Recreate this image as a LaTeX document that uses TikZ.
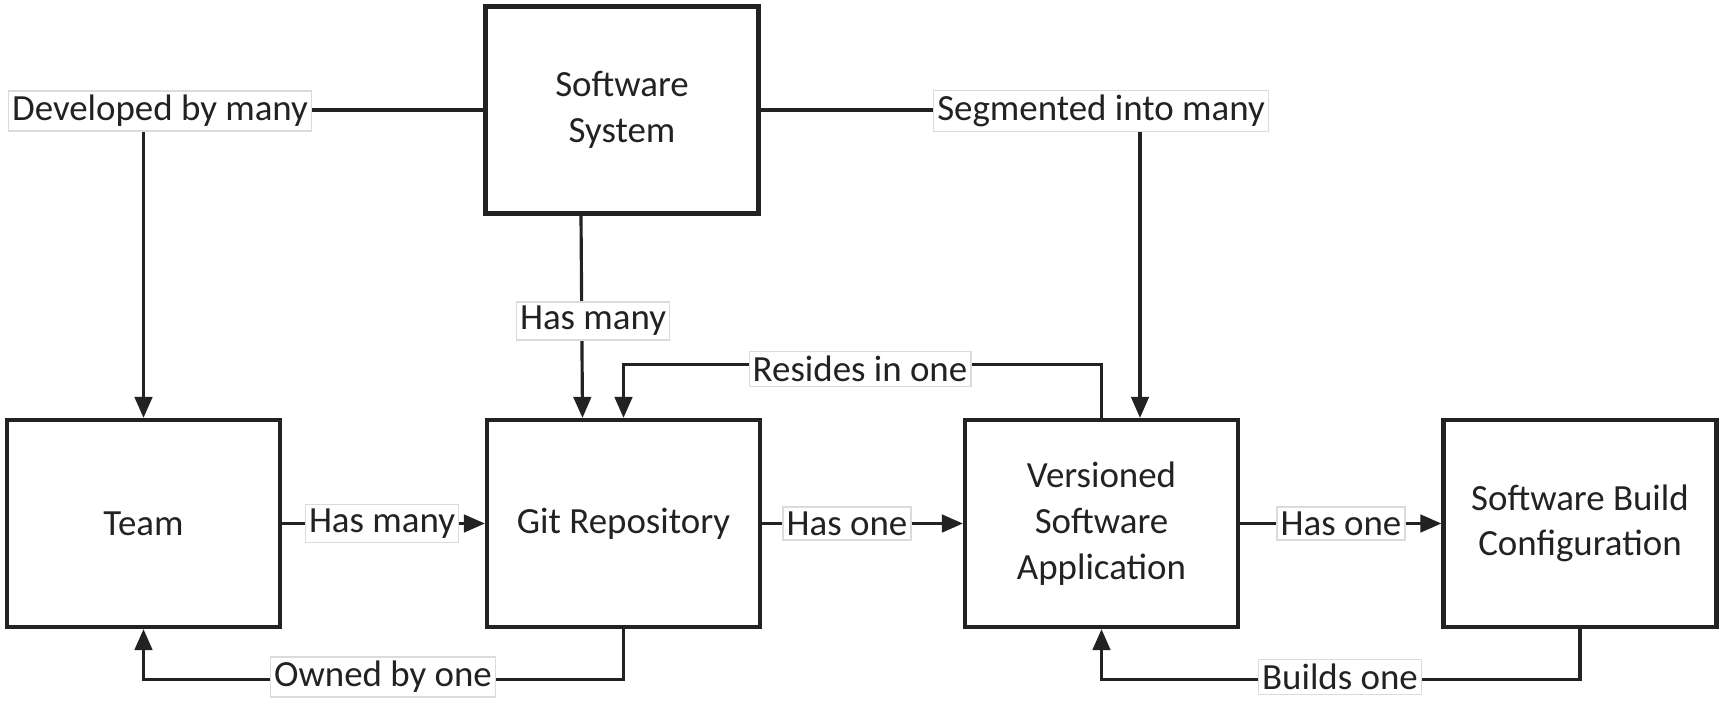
\documentclass[tikz,border=0pt]{standalone}
\usepackage{fontspec}
\setmainfont{Carlito}
\usetikzlibrary{arrows.meta,calc}
\definecolor{ink}{HTML}{222222}
\tikzset{
  box/.style={draw=ink, line width=2.4pt, minimum width=5.46cm, minimum height=4.14cm,
    inner sep=0pt, align=center, font=\fontsize{21}{26}\selectfont, text=ink},
  lbl/.style={fill=white, draw=gray!28, line width=0.8pt, inner xsep=2pt, inner ysep=2.5pt,
    font=\fontsize{21}{24}\selectfont, text=ink},
  conn/.style={draw=ink, line width=1.8pt},
  arr/.style={conn, -{Triangle[length=12pt,width=10pt]}}
}
\begin{document}
\begin{tikzpicture}[x=0.02cm,y=-0.02cm]
\useasboundingbox (0,0) rectangle (1725,706);
% boxes
\node[box] (SS)   at (622,110)    {Software\\System};
\node[box] (Team) at (143.5,523.5) {Team};
\node[box] (Git)  at (623.5,523.5) {Git Repository};
\node[box] (VSA)  at (1101.5,523.5) {Versioned\\Software\\Application};
\node[box] (SBC)  at (1580,523.5)  {Software Build\\Configuration};
% connectors
\draw[arr] (SS.west) -| (Team.north);
\draw[arr] (SS.east) -| ($(VSA.north)+(38.5,0)$);
\draw[arr] ($(SS.south)+(-41,0)$) -- ($(Git.north)+(-41,0)$);
\draw[arr] (VSA.north) -- ++(0,-53) -| (Git.north);
\draw[arr] (Team.east) -- (Git.west);
\draw[arr] (Git.east) -- (VSA.west);
\draw[arr] (VSA.east) -- (SBC.west);
\draw[arr] (Git.south) -- ++(0,50) -| (Team.south);
\draw[arr] (SBC.south) -- ++(0,50) -| (VSA.south);
% labels
\node[lbl] (l1) at (160,111)  {Developed by many};
\node[lbl] (l2) at (1101,111) {Segmented into many};
\node[lbl] (l3) at (593,321)  {Has many};
\node[lbl] (l4) at (860,369)  {Resides in one};
\node[lbl] (l5) at (382,523.5) {Has many};
\node[lbl] (l6) at (847,523.5) {Has one};
\node[lbl] (l7) at (1341,523.5) {Has one};
\node[lbl] (l8) at (383,677)  {Owned by one};
\node[lbl] (l9) at (1340,677) {Builds one};
\end{tikzpicture}
\end{document}
